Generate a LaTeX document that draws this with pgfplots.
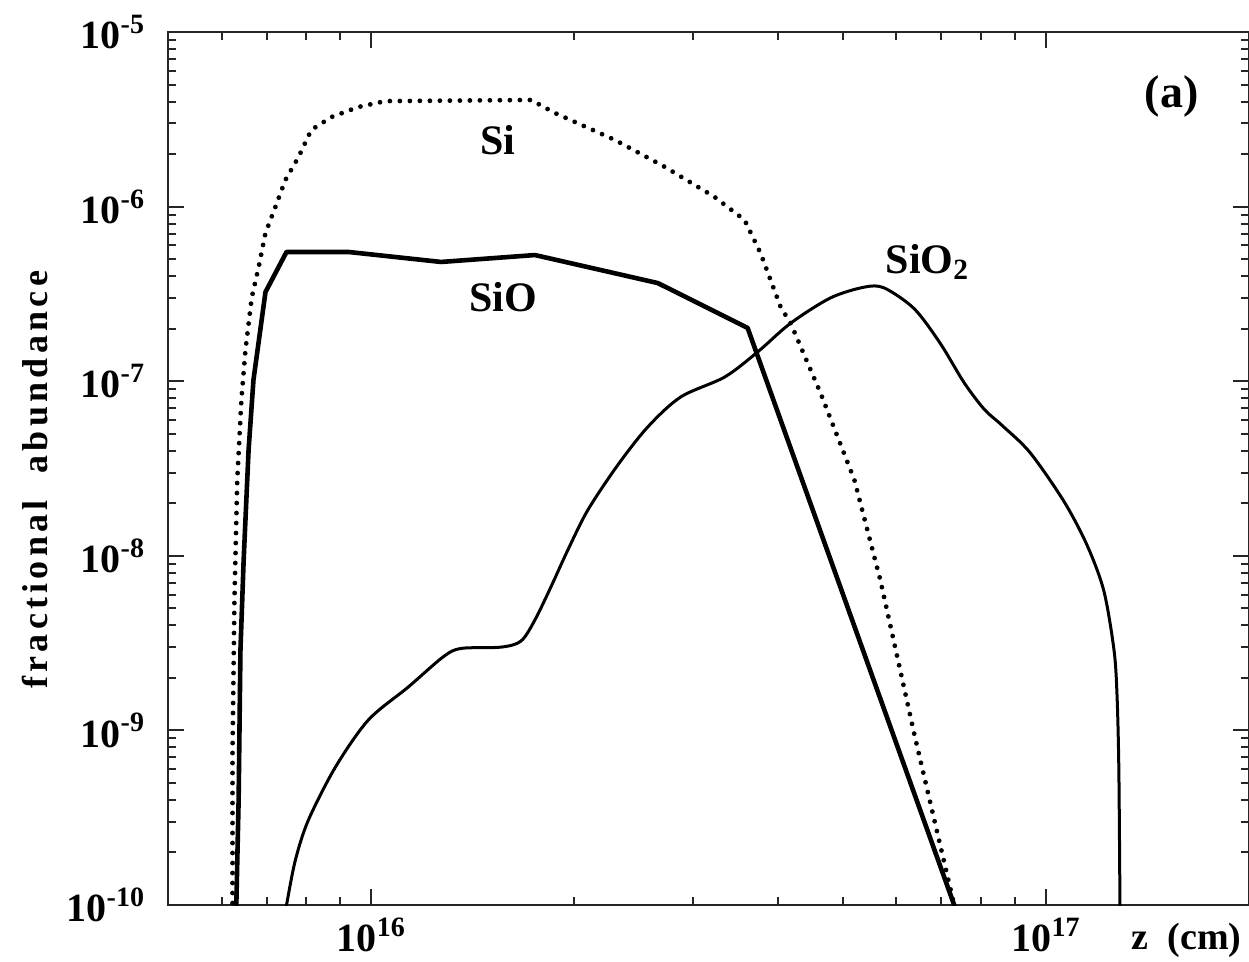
\documentclass[border=0pt]{standalone}
\usepackage{fontspec}
\setmainfont{Liberation Serif}
\usepackage{pgfplots}
\pgfplotsset{compat=1.18}
\begin{document}
\begin{tikzpicture}
\begin{axis}[
  scale only axis, width=540.5pt, height=436.5pt,
  xmode=log, ymode=log,
  xmin=5e15, xmax=2e17, ymin=1e-10, ymax=1e-5,
  axis line style={line width=1.2pt, black!85},
  every tick/.style={line width=1pt, black!85},
  major tick length=8pt, minor tick length=4pt,
  tick align=inside,
  xtick={1e16,1e17},
  xticklabels={10\textsuperscript{16},10\textsuperscript{17}},
  minor xtick={6e15,7e15,8e15,9e15,2e16,3e16,4e16,5e16,6e16,7e16,8e16,9e16},
  ytick={1e-10,1e-9,1e-8,1e-7,1e-6,1e-5},
  yticklabels={10\textsuperscript{-10},10\textsuperscript{-9},10\textsuperscript{-8},10\textsuperscript{-7},10\textsuperscript{-6},10\textsuperscript{-5}},
  minor ytick={2e-10,3e-10,4e-10,5e-10,6e-10,7e-10,8e-10,9e-10,
               2e-9,3e-9,4e-9,5e-9,6e-9,7e-9,8e-9,9e-9,
               2e-8,3e-8,4e-8,5e-8,6e-8,7e-8,8e-8,9e-8,
               2e-7,3e-7,4e-7,5e-7,6e-7,7e-7,8e-7,9e-7,
               2e-6,3e-6,4e-6,5e-6,6e-6,7e-6,8e-6,9e-6},
  ticklabel style={font=\fontsize{20}{20}\selectfont\bfseries},
  yticklabel style={xshift=-8pt},
  xticklabel style={yshift=-3pt},
  clip mode=individual,
]
% Si (dotted)
\addplot[black, line width=2.4pt, line cap=round, dash pattern=on 0pt off 5pt] coordinates {
(6.229e15,9e-11) (6.229e15,7.72e-10) (6.27e15,5.58e-9) (6.33e15,2.72e-8)
(6.42e15,7.8e-8) (6.51e15,1.51e-7) (6.65e15,3.0e-7) (6.81e15,4.51e-7)
(6.97e15,7.06e-7) (7.21e15,9.95e-7) (7.46e15,1.42e-6) (7.80e15,1.92e-6)
(8.15e15,2.75e-6) (8.73e15,3.26e-6) (9.57e15,3.72e-6) (1.049e16,4.02e-6)
(1.725e16,4.08e-6) (1.871e16,3.44e-6) (2.296e16,2.41e-6) (2.722e16,1.69e-6)
(3.228e16,1.135e-6) (3.575e16,8.38e-7) (3.775e16,5.42e-7) (4.043e16,2.66e-7)
(4.183e16,2.15e-7) (4.632e16,8.56e-8) (5.200e16,2.72e-8) (5.681e16,7.27e-9)
(6.379e16,9.54e-10) (7.310e16,1e-10) (7.4e16,8e-11)
};
% SiO (thick)
\addplot[black, line width=2.3pt, line join=round] coordinates {
(6.29e15,9e-11) (6.31e15,1e-10) (6.36e15,3.99e-10) (6.40e15,2.89e-9)
(6.47e15,9.46e-9) (6.58e15,4.04e-8) (6.69e15,1.016e-7) (6.97e15,3.24e-7)
(7.49e15,5.50e-7) (9.25e15,5.50e-7) (1.269e16,4.82e-7) (1.748e16,5.28e-7)
(1.827e16,5.08e-7) (2.658e16,3.65e-7) (3.612e16,2.02e-7) (7.310e16,1e-10)
(7.4e16,8e-11)
};
% SiO2 (thin, smooth)
\addplot[black, line width=1.5pt, smooth, tension=0.5] coordinates {
(7.46e15,9e-11) (7.49e15,1e-10) (7.72e15,1.81e-10) (8.07e15,3.07e-10)
(8.85e15,6.17e-10) (9.90e15,1.147e-9) (1.134e16,1.77e-9) (1.28e16,2.65e-9)
(1.36e16,2.95e-9) (1.557e16,3.00e-9) (1.667e16,3.25e-9) (1.748e16,4.29e-9)
(1.846e16,6.63e-9) (1.956e16,1.079e-8) (2.094e16,1.83e-8) (2.319e16,3.31e-8)
(2.569e16,5.47e-8) (2.874e16,8.12e-8) (3.340e16,1.057e-7) (3.737e16,1.47e-7)
(4.183e16,2.15e-7) (4.792e16,3.00e-7) (5.380e16,3.46e-7) (5.759e16,3.42e-7)
(6.379e16,2.60e-7) (6.969e16,1.65e-7) (7.564e16,9.8e-8) (8.10e16,6.9e-8)
(8.60e16,5.6e-8) (9.470e16,3.9e-8) (1.063e17,2.05e-8) (1.150e17,1.153e-8)
(1.218e17,6.3e-9) (1.261e17,2.89e-9) (1.274e17,1.6e-9) (1.282e17,6e-10)
(1.287e17,1e-10) (1.288e17,8e-11)
};
\node[font=\fontsize{21}{21}\selectfont\bfseries] at (axis cs:1.54e16,2.41e-6) {Si};
\node[font=\fontsize{21}{21}\selectfont\bfseries] at (axis cs:1.568e16,3.03e-7) {SiO};
\node[font=\fontsize{21}{21}\selectfont\bfseries] at (axis cs:6.67e16,4.82e-7) {SiO\textsubscript{2}};
\node[font=\fontsize{23}{23}\selectfont\bfseries] at (axis cs:1.535e17,4.30e-6) {(a)};
\node[font=\fontsize{18}{18}\selectfont\bfseries, rotate=90] at (rel axis cs:-0.123,0.487) {\addfontfeature{LetterSpace=12}fractional\ \ abundance};
\node[font=\fontsize{19}{19}\selectfont\bfseries] at (rel axis cs:0.942,-0.040) {z\ \ (cm)};
\end{axis}
\pgfresetboundingbox
\useasboundingbox ([xshift=-84pt,yshift=-28pt]current axis.south west) rectangle ([yshift=16pt]current axis.north east);
\end{tikzpicture}
\end{document}
